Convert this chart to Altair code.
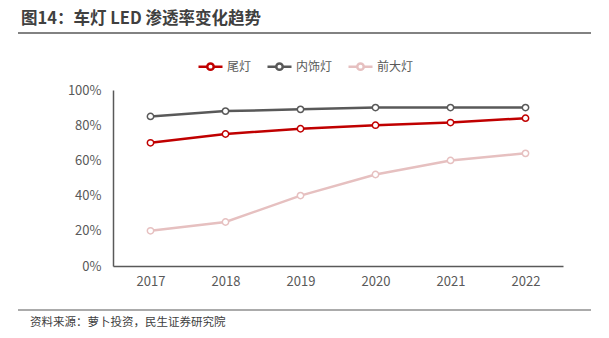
import altair as alt
import pandas as pd

years = ["2017", "2018", "2019", "2020", "2021", "2022"]
series_names = ["尾灯", "内饰灯", "前大灯"]
tail = [70, 75, 78, 80, 81.5, 84]
interior = [85, 88, 89, 90, 90, 90]
head = [20, 25, 40, 52, 60, 64]
colors = ["#C00000", "#595959", "#E6C0C0"]
y_ticks = [0, 20, 40, 60, 80, 100]
title_text = "图14：车灯 LED 渗透率变化趋势"
source_text = "资料来源：萝卜投资，民生证券研究院"

rows = []
for name, vals in zip(series_names, [tail, interior, head]):
    for yr, v in zip(years, vals):
        rows.append({"year": yr, "value": v, "series": name})
df = pd.DataFrame(rows)

FONT = "Noto Sans CJK SC"
sym = "M-1,0L-0.27,0M0.27,0L1,0M-0.27,0A0.27,0.27,0,1,1,0.27,0A0.27,0.27,0,1,1,-0.27,0Z"

lines = alt.Chart(df).mark_line(
    strokeWidth=2.5,
    point=alt.OverlayMarkDef(filled=False, fill="white", fillOpacity=1, size=40, strokeWidth=1.5),
).encode(
    x=alt.X("year:N", sort=years,
            scale=alt.Scale(type="point", padding=0.5),
            axis=alt.Axis(title=None, labelAngle=0, ticks=False, grid=False,
                          domainColor="#595959", domainWidth=1.5,
                          labelFont=FONT, labelFontSize=13, labelColor="#595959",
                          labelPadding=9)),
    y=alt.Y("value:Q", scale=alt.Scale(domain=[0, 100]),
            axis=alt.Axis(title=None, values=y_ticks, ticks=False, grid=False,
                          domainColor="#595959", domainWidth=1.5,
                          labelExpr="datum.value + '%'",
                          labelFont=FONT, labelFontSize=13, labelColor="#595959",
                          labelPadding=12)),
    color=alt.Color("series:N", sort=series_names,
                    scale=alt.Scale(domain=series_names, range=colors),
                    legend=alt.Legend(title=None, orient="none", direction="horizontal",
                                      legendX=84, legendY=-37,
                                      symbolType=sym, symbolSize=576,
                                      symbolStrokeWidth=2.5, symbolFillColor="white",
                                      labelFont=FONT, labelFontSize=12,
                                      labelColor="#595959", labelOffset=3,
                                      columnPadding=10)),
)

title = alt.Chart(pd.DataFrame({"t": [title_text]})).mark_text(
    font=FONT, fontSize=16.5, fontWeight="bold", color="#404040",
    align="left", baseline="middle",
).encode(text="t:N", x=alt.value(-92), y=alt.value(-71))

top_rule = alt.Chart(pd.DataFrame({"a": [0]})).mark_rule(
    color="#595959", strokeWidth=1.5
).encode(x=alt.value(-95), x2=alt.value(478), y=alt.value(-57))

bottom_rule = alt.Chart(pd.DataFrame({"a": [0]})).mark_rule(
    color="#595959", strokeWidth=1.2
).encode(x=alt.value(-95), x2=alt.value(478), y=alt.value(220))

source = alt.Chart(pd.DataFrame({"t": [source_text]})).mark_text(
    font=FONT, fontSize=11.5, color="#404040", align="left", baseline="middle",
).encode(text="t:N", x=alt.value(-83), y=alt.value(233))

chart = alt.layer(lines, title, top_rule, bottom_rule, source).properties(
    width=450, height=176,
    autosize=alt.AutoSizeParams(type="none"),
    padding={"left": 113, "top": 90, "right": 46, "bottom": 72},
    background="white",
).configure_view(stroke=None)

chart.save("out.html", embed_options={"renderer": "svg", "actions": False})
